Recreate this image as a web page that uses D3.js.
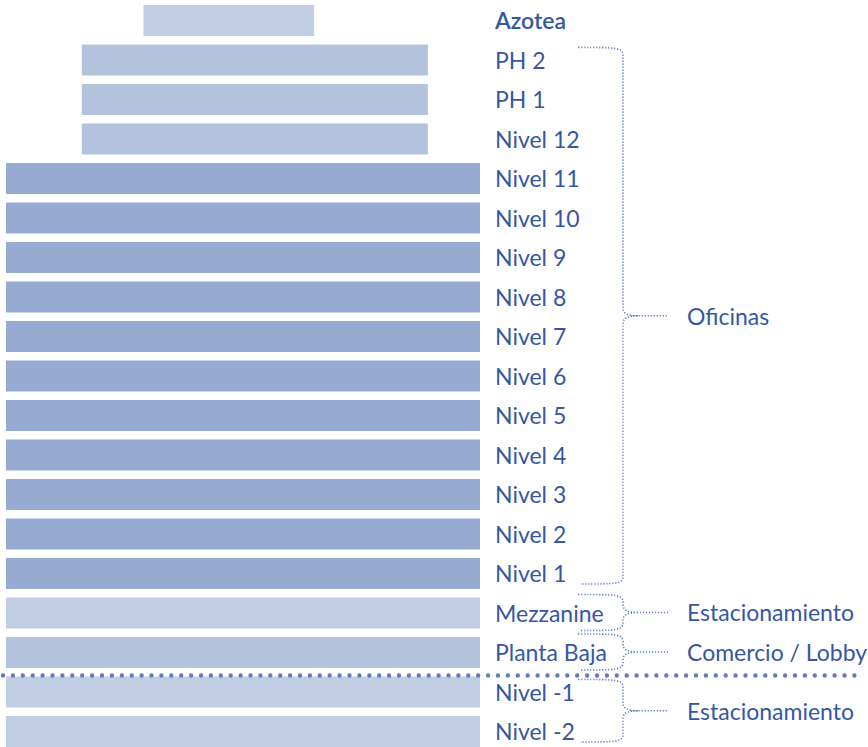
<!DOCTYPE html>
<html>
<head>
<meta charset="utf-8">
<script src="https://cdn.jsdelivr.net/npm/d3@7"></script>
<style>
  html, body { margin: 0; padding: 0; background: #ffffff; }
  svg { display: block; }
</style>
</head>
<body>
<script>
// ---- Data ----
const floors = ["Azotea","PH 2","PH 1","Nivel 12","Nivel 11","Nivel 10","Nivel 9","Nivel 8","Nivel 7","Nivel 6","Nivel 5","Nivel 4","Nivel 3","Nivel 2","Nivel 1","Mezzanine","Planta Baja","Nivel -1","Nivel -2"];
const floorStart = [29,16,16,16,0,0,0,0,0,0,0,0,0,0,0,0,0,0,0];
const floorEnd   = [65,89,89,89,100,100,100,100,100,100,100,100,100,100,100,100,100,100,100];
const floorTone  = ["light","mid","mid","mid","dark","dark","dark","dark","dark","dark","dark","dark","dark","dark","dark","light","mid","light","light"];
const groupLabels = ["Oficinas","Estacionamiento","Comercio / Lobby","Estacionamiento"];
const groupFirst  = ["PH 2","Mezzanine","Planta Baja","Nivel -1"];
const groupLast   = ["Nivel 1","Mezzanine","Planta Baja","Nivel -2"];
const groundAbove = "Nivel -1";

// ---- Layout ----
const W = 868, H = 747;
const svg = d3.select("body").append("svg").attr("width", W).attr("height", H);

const y = d3.scaleBand().domain(floors).range([5, 747]).paddingInner(0.215).paddingOuter(0);
const x = d3.scaleLinear().domain([0, 100]).range([6, 480]);
const tone = d3.scaleOrdinal().domain(["light","mid","dark"]).range(["#c1cde3","#b3c2dd","#97abd2"]);

const textColor = "#3557a3";
const dotColor = "#5f7dbb";
const font = "Lato, 'Open Sans', sans-serif";

const rows = floors.map((f, i) => ({name: f, s: floorStart[i], e: floorEnd[i], t: floorTone[i]}));

svg.append("g").selectAll("rect").data(rows).join("rect")
  .attr("x", d => x(d.s))
  .attr("width", d => x(d.e) - x(d.s))
  .attr("y", d => y(d.name))
  .attr("height", y.bandwidth())
  .attr("fill", d => tone(d.t));

svg.append("g").selectAll("text").data(rows).join("text")
  .attr("x", 495)
  .attr("y", d => y(d.name) + y.bandwidth() / 2 + 3)
  .attr("dominant-baseline", "middle")
  .attr("font-family", font)
  .attr("font-size", 23)
  .attr("font-weight", d => d.name === "Azotea" ? 600 : 400)
  .attr("fill", textColor)
  .text(d => d.name);

// ---- Ground line ----
const gy = y(groundAbove) - 1;
svg.append("line")
  .attr("x1", 3).attr("x2", 860)
  .attr("y1", gy).attr("y2", gy)
  .attr("stroke", dotColor)
  .attr("stroke-width", 4.4)
  .attr("stroke-linecap", "round")
  .attr("stroke-dasharray", "0 9.9");

// ---- Braces ----
const xL = 578, xV = 623, xTip = 668;
const groups = groupLabels.map((g, i) => {
  const single = groupFirst[i] === groupLast[i];
  const yt = y(groupFirst[i]) + (single ? -3 : 3);
  const yb = y(groupLast[i]) + y.bandwidth() + (single ? 2 : -5);
  return {label: g, yt, yb, ym: (yt + yb) / 2};
});

function bracePath(d) {
  const p = d3.path();
  const r = Math.min(8, (d.ym - d.yt) / 2);
  p.moveTo(xL, d.yt);
  p.bezierCurveTo(xV - 6, d.yt, xV, d.yt, xV, d.yt + r);
  p.lineTo(xV, d.ym - r);
  p.bezierCurveTo(xV, d.ym - 2, xV + 5, d.ym, xV + 15, d.ym);
  p.lineTo(xTip, d.ym);
  p.moveTo(xV + 15, d.ym);
  p.bezierCurveTo(xV + 5, d.ym, xV, d.ym + 2, xV, d.ym + r);
  p.lineTo(xV, d.yb - r);
  p.bezierCurveTo(xV, d.yb, xV - 6, d.yb, xL + 2, d.yb);
  return p.toString();
}

svg.append("g").selectAll("path").data(groups).join("path")
  .attr("d", bracePath)
  .attr("fill", "none")
  .attr("stroke", dotColor)
  .attr("stroke-width", 1.6)
  .attr("stroke-dasharray", "1.2 1.8");

svg.append("g").selectAll("text").data(groups).join("text")
  .attr("x", 687)
  .attr("y", d => d.ym + 3)
  .attr("dominant-baseline", "middle")
  .attr("font-family", font)
  .attr("font-size", 23)
  .attr("fill", textColor)
  .text(d => d.label);
</script>
</body>
</html>
